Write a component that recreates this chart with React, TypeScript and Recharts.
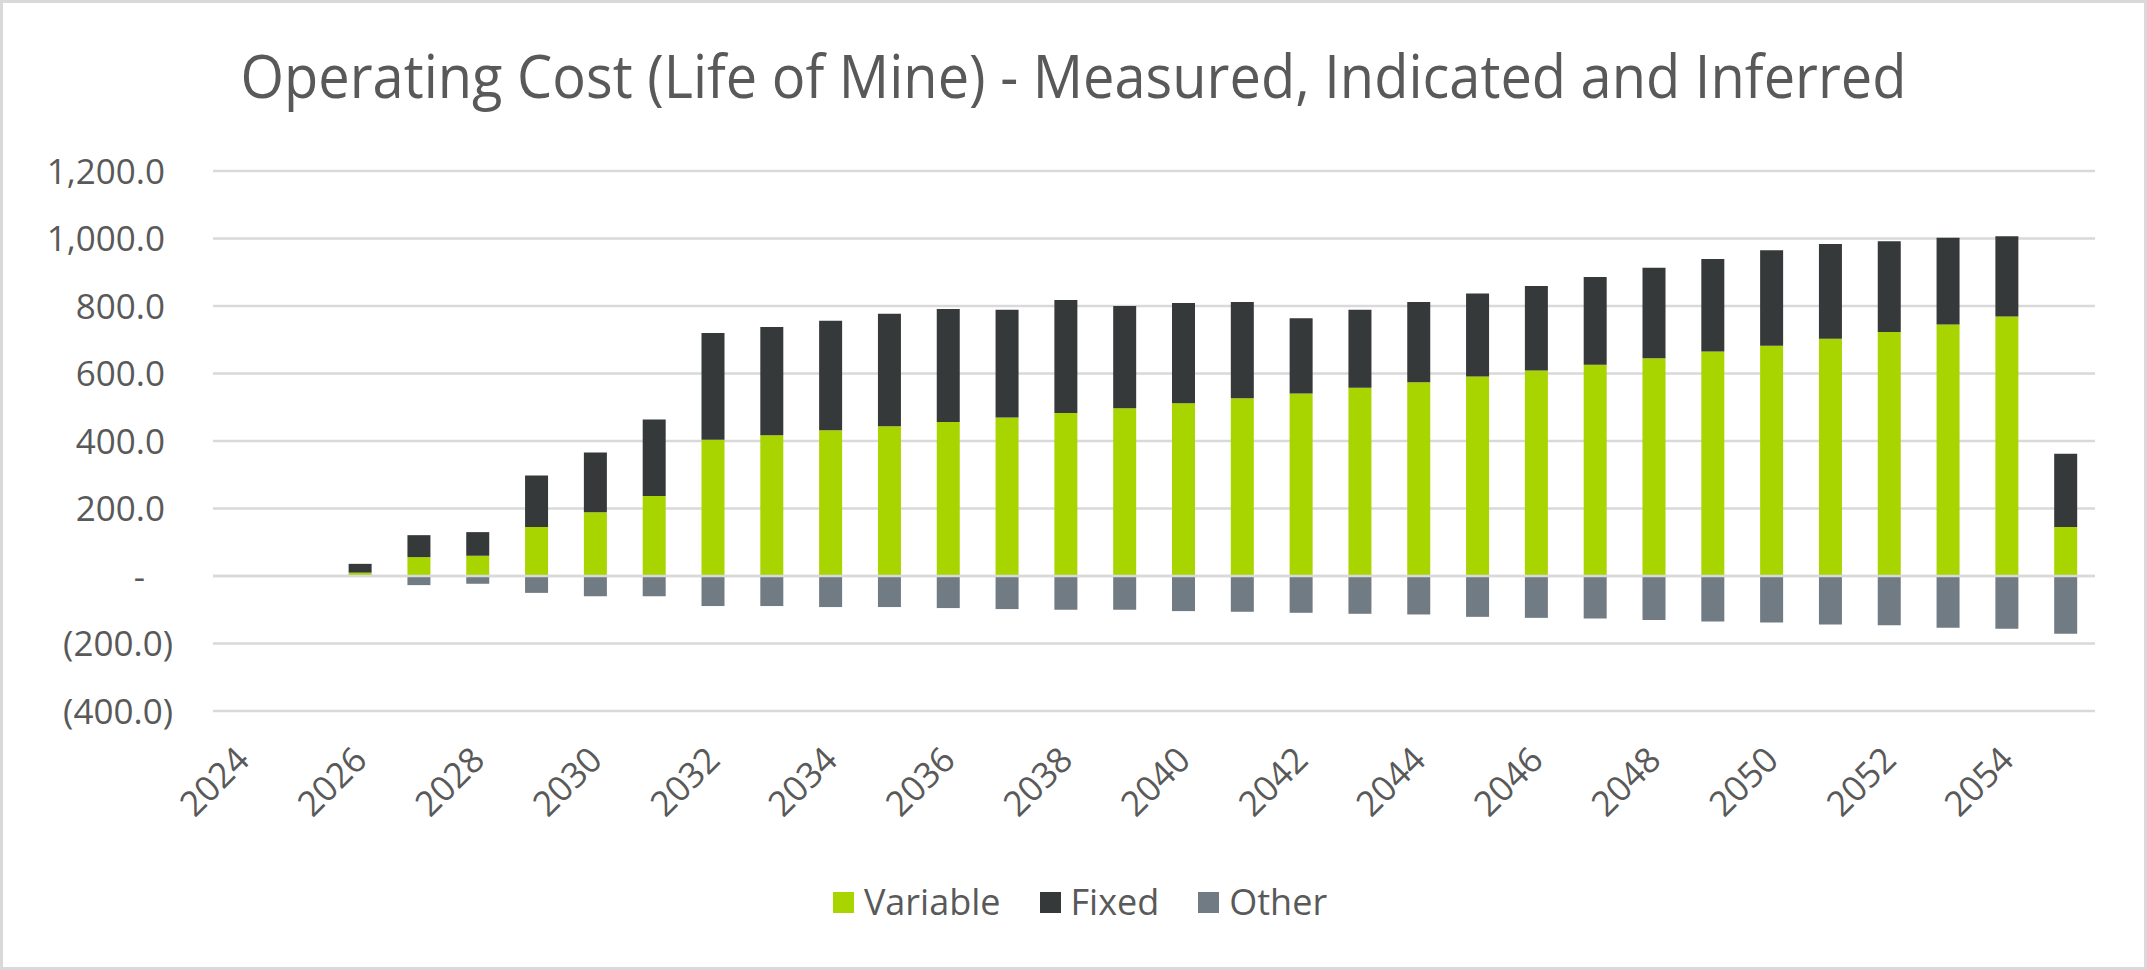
import { BarChart, Bar, XAxis, YAxis, CartesianGrid, Legend, ReferenceLine } from "recharts";

const years = [
  "2024", "2025", "2026", "2027", "2028", "2029", "2030", "2031",
  "2032", "2033", "2034", "2035", "2036", "2037", "2038", "2039",
  "2040", "2041", "2042", "2043", "2044", "2045", "2046", "2047",
  "2048", "2049", "2050", "2051", "2052", "2053", "2054", "2055",
];
const variableCost = [
  null, null, 10, 56, 60, 145, 189, 237,
  404, 417, 432, 444, 456, 470, 483, 497,
  512, 527, 541, 558, 574, 591, 609, 626,
  645, 665, 682, 703, 723, 745, 769, 145,
];
const fixedCost = [
  null, null, 26, 65, 70, 153, 177, 227,
  316, 321, 324, 333, 335, 319, 335, 303,
  297, 285, 223, 231, 238, 246, 250, 260,
  268, 274, 283, 281, 269, 257, 238, 217,
];
const otherCost = [
  null, null, -2, -27, -23, -50, -60, -60,
  -89, -89, -92, -92, -95, -98, -100, -100,
  -104, -106, -109, -112, -114, -121, -124, -126,
  -130, -135, -138, -144, -146, -153, -156, -171,
];
const yTicks = [-400, -200, 0, 200, 400, 600, 800, 1000, 1200];

const TEXT = "#595959";
const GRID = "#D9D9D9";
const FONT = "'Open Sans', sans-serif";

const series = [
  { key: "variable", name: "Variable", color: "#A8D400" },
  { key: "fixed", name: "Fixed", color: "#363939" },
  { key: "other", name: "Other", color: "#717B83" },
];

const data = years.map((year, i) => ({
  year,
  variable: variableCost[i],
  fixed: fixedCost[i],
  other: otherCost[i],
}));

// Excel accounting style: 1,200.0 / - / (200.0)
function YTick({ x, y, payload }: any) {
  const v = payload.value as number;
  let label = "";
  let dx = 0;
  if (v === 0) {
    label = "-";
    dx = -20;
  } else if (v < 0) {
    label = `(${Math.abs(v).toLocaleString("en-US", { minimumFractionDigits: 1 })})`;
    dx = 8;
  } else {
    label = v.toLocaleString("en-US", { minimumFractionDigits: 1 });
  }
  return (
    <text x={x + dx} y={y} dy="0.36em" textAnchor="end" fill={TEXT} fontSize={35} fontFamily={FONT}>
      {label}
    </text>
  );
}

function XTick({ x, y, payload }: any) {
  const tx = x + 9;
  const ty = y + 51;
  return (
    <text x={tx} y={ty} textAnchor="end" fill={TEXT} fontSize={35} fontFamily={FONT} transform={`rotate(-45 ${tx} ${ty})`}>
      {payload.value}
    </text>
  );
}

function LegendBox() {
  return (
    <div style={{ height: 40, display: "flex", justifyContent: "center", alignItems: "center", paddingLeft: 32 }}>
      {series.map((s, i) => (
        <div key={s.key} style={{ display: "flex", alignItems: "center", marginLeft: i === 0 ? 0 : 39 }}>
          <span style={{ width: 21, height: 21, background: s.color, display: "inline-block", marginRight: 10 }} />
          <span style={{ color: TEXT, fontSize: 36, fontFamily: FONT, lineHeight: "40px" }}>{s.name}</span>
        </div>
      ))}
    </div>
  );
}

export default function App() {
  return (
    <div style={{ position: "absolute", left: 0, top: 0, width: 2147, height: 970, background: "#fff" }}>
      <BarChart
        width={2147}
        height={970}
        data={data}
        stackOffset="sign"
        barSize={23}
        margin={{ top: 171, right: 52, left: 33, bottom: 48 }}
      >
        <CartesianGrid horizontal vertical={false} stroke={GRID} strokeWidth={2.7} />
        <XAxis
          dataKey="year"
          interval={1}
          height={171}
          axisLine={false}
          tickLine={false}
          tickSize={0}
          tickMargin={0}
          tick={<XTick />}
        />
        <YAxis
          domain={[-400, 1200]}
          ticks={yTicks}
          width={180}
          axisLine={false}
          tickLine={false}
          tickSize={0}
          tickMargin={48}
          tick={<YTick />}
        />
        {series.map((s) => (
          <Bar key={s.key} dataKey={s.key} name={s.name} stackId="cost" fill={s.color} isAnimationActive={false} />
        ))}
        <ReferenceLine y={0} stroke={GRID} strokeWidth={2.7} />
        <Legend verticalAlign="bottom" content={<LegendBox />} />
      </BarChart>
      <svg width={2147} height={140} style={{ position: "absolute", left: 0, top: 0, pointerEvents: "none" }}>
        <text
          x={1073.5}
          y={98}
          textAnchor="middle"
          fill={TEXT}
          fontSize={60}
          fontFamily={FONT}
          textLength={1666}
          lengthAdjust="spacingAndGlyphs"
        >
          Operating Cost (Life of Mine) - Measured, Indicated and Inferred
        </text>
      </svg>
      <div
        style={{
          position: "absolute",
          inset: 0,
          border: `3px solid ${GRID}`,
          pointerEvents: "none",
        }}
      />
    </div>
  );
}
